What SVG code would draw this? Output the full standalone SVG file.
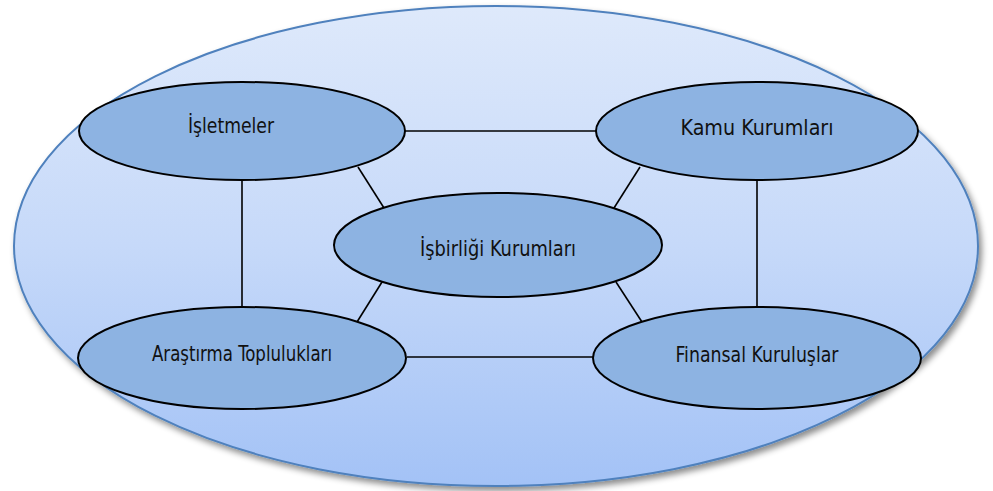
<svg xmlns="http://www.w3.org/2000/svg" width="993" height="491" viewBox="0 0 993 491">
<defs>
<linearGradient id="outerGrad" x1="0" y1="0" x2="0" y2="1">
<stop offset="0" stop-color="#dee9fb"/>
<stop offset="0.5" stop-color="#c6d9f9"/>
<stop offset="1" stop-color="#a3c2f6"/>
</linearGradient>
<filter id="shadow" x="-5%" y="-5%" width="112%" height="115%">
<feDropShadow dx="3" dy="4" stdDeviation="3" flood-color="#000" flood-opacity="0.45"/>
</filter>
</defs>
<style>
.node ellipse{fill:#8db3e2;stroke:#000;stroke-width:2}
.node text{font-family:"DejaVu Sans Condensed","Liberation Sans",sans-serif;font-size:21px;fill:#111;text-anchor:middle}
.conn line{stroke:#000;stroke-width:1.6}
</style>
<rect width="993" height="491" fill="#fff"/>
<ellipse id="outer" cx="496" cy="246" rx="482" ry="240" fill="url(#outerGrad)" stroke="#4f81bd" stroke-width="2" filter="url(#shadow)"/>
<g id="connectors" class="conn">
<line x1="405" y1="131" x2="597" y2="131"/>
<line x1="407" y1="357" x2="593" y2="357"/>
<line x1="242" y1="180" x2="242" y2="307"/>
<line x1="757" y1="180" x2="757" y2="307"/>
<line x1="358" y1="167" x2="384" y2="208"/>
<line x1="640" y1="167" x2="614" y2="208"/>
<line x1="382" y1="282" x2="357" y2="322"/>
<line x1="616" y1="282" x2="642" y2="322"/>
</g>
<g id="isletmeler" class="node">
<ellipse cx="242" cy="131" rx="163" ry="49"/>
<text x="231" y="133" textLength="86" lengthAdjust="spacingAndGlyphs">İşletmeler</text>
</g>
<g id="kamu" class="node">
<ellipse cx="757" cy="131" rx="161" ry="49"/>
<text x="757" y="135" textLength="153" lengthAdjust="spacingAndGlyphs">Kamu Kurumları</text>
</g>
<g id="isbirligi" class="node">
<ellipse cx="498" cy="245" rx="164" ry="52"/>
<text x="498" y="256" textLength="156" lengthAdjust="spacingAndGlyphs">İşbirliği Kurumları</text>
</g>
<g id="arastirma" class="node">
<ellipse cx="242" cy="358" rx="164" ry="51"/>
<text x="242" y="361" textLength="180" lengthAdjust="spacingAndGlyphs">Araştırma Toplulukları</text>
</g>
<g id="finansal" class="node">
<ellipse cx="757" cy="358" rx="164" ry="51"/>
<text x="757" y="362" textLength="163" lengthAdjust="spacingAndGlyphs">Finansal Kuruluşlar</text>
</g>
</svg>
